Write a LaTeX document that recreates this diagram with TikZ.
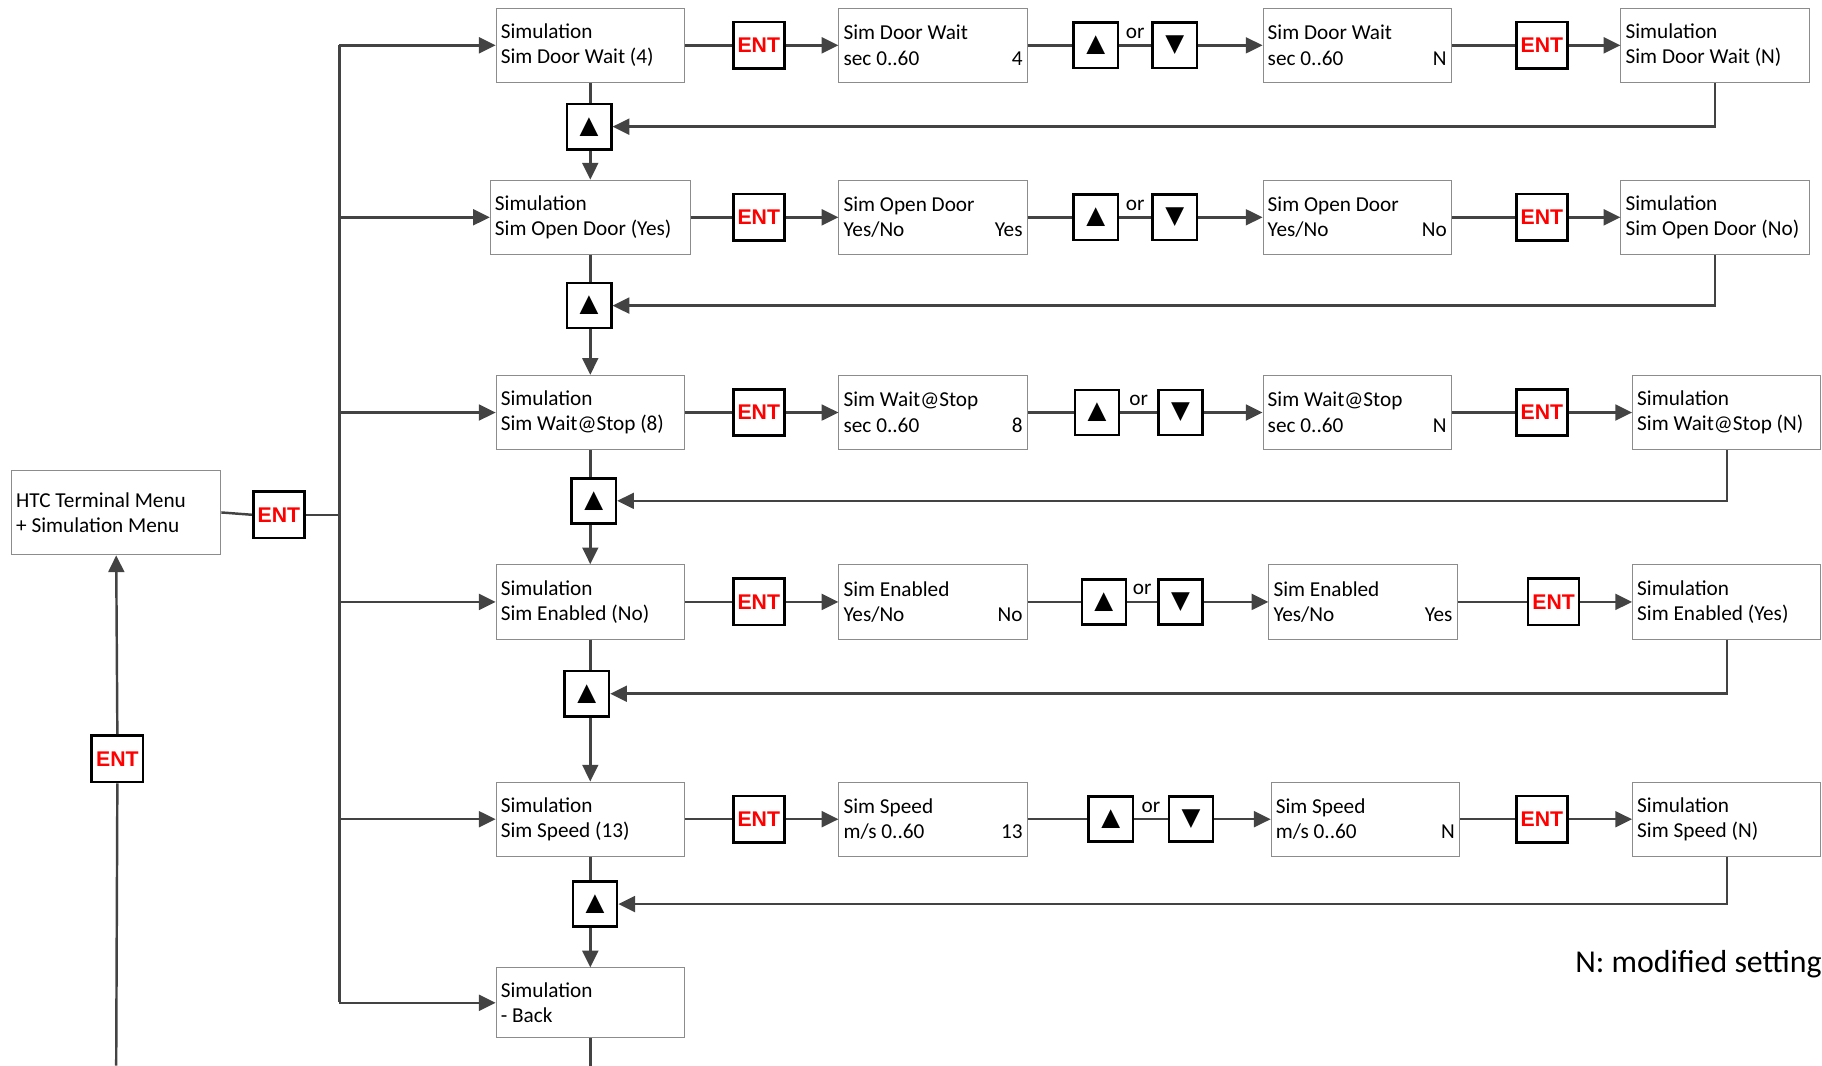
\documentclass[tikz,border=0pt]{standalone}
\usepackage{fontspec}
\setmainfont{Carlito}
\newfontfamily\entfont{Liberation Sans}
\newfontfamily\keyfont{DejaVu Sans}
\usetikzlibrary{arrows.meta, positioning, calc}
\definecolor{linegray}{RGB}{67,67,67}
\definecolor{boxgray}{RGB}{140,140,140}
\definecolor{entred}{RGB}{255,0,0}
% second line of a setting box: text left, value right
\newcommand{\valline}[2]{#1\hspace{0pt plus 1filll}#2\hspace*{0.1cm}}

\begin{document}
\begin{tikzpicture}[x=0.025cm, y=-0.025cm,
    menu/.style={draw=boxgray, line width=0.6pt, fill=white, inner xsep=0.1cm, inner ysep=0pt,
        text width=3.85cm, minimum height=1.6cm, align=flush left, font=\fontsize{13}{15.6}\selectfont},
    key/.style={draw=black, line width=1.6pt, fill=white, inner sep=0pt},
    ent/.style={key, minimum width=1.1cm, minimum height=1cm, text=entred,
        font=\entfont\bfseries\fontsize{13}{13}\selectfont},
    arr/.style={key, minimum width=0.95cm, minimum height=0.97cm, font=\keyfont\fontsize{15}{15}\selectfont},
    link/.style={draw=linegray, line width=1.5pt},
    flow/.style={link, -{Triangle[length=0.36cm, width=0.34cm]}},
    ortext/.style={anchor=south, inner sep=1pt, yshift=3pt, font=\fontsize{13}{13}\selectfont}]

    \useasboundingbox (0,0) rectangle (1568,917);

    % main menu, the ENT that leads in, and the bus
    \node[menu, text width=4.3cm, minimum height=1.825cm] (htc) at (100,441) {HTC Terminal Menu\\+ Simulation Menu};
    \node[ent] (ent0) at (240,443) {ENT};
    \node[ent] (entin) at (101,653) {ENT};
    \coordinate (bot) at (100,917);
    \coordinate (bustop) at (292,39);
    \coordinate (busbot) at (292,862);
    \draw[link] (bot) -- (entin.south);
    \draw[flow] (entin.north) -- (htc.south);
    \draw[link] (bustop) -- (busbot);
    \draw[link] (htc.east) -- (ent0.west);
    \draw[link] (ent0.east) -- (ent0.east -| bustop);

    % Sim Door Wait
    \node[menu] (s1) at (508,39) {Simulation\\Sim Door Wait (4)};
    \node[ent] (s1e) at (653,39) {ENT};
    \node[menu] (v1) at (803,39) {Sim Door Wait\\\valline{sec 0..60}{4}};
    \node[arr] (u1) at (943,39) {▲};
    \node[arr] (d1) at (1011,39) {▼};
    \node[ortext] (o1) at ($(u1.east)!.5!(d1.west)$) {or};
    \node[menu] (n1) at (1168,39) {Sim Door Wait\\\valline{sec 0..60}{N}};
    \node[ent] (n1e) at (1327,39) {ENT};
    \node[menu] (r1) at (1476,39) {Simulation\\Sim Door Wait (N)};
    \node[arr] (k1) at (507,109) {▲};

    % Sim Open Door
    \node[menu, text width=4.1cm] (s2) at (508,187) {Simulation\\Sim Open Door (Yes)};
    \node[ent] (s2e) at (653,187) {ENT};
    \node[menu] (v2) at (803,187) {Sim Open Door\\\valline{Yes/No}{Yes}};
    \node[arr] (u2) at (943,187) {▲};
    \node[arr] (d2) at (1011,187) {▼};
    \node[ortext] (o2) at ($(u2.east)!.5!(d2.west)$) {or};
    \node[menu] (n2) at (1168,187) {Sim Open Door\\\valline{Yes/No}{No}};
    \node[ent] (n2e) at (1327,187) {ENT};
    \node[menu] (r2) at (1476,187) {Simulation\\Sim Open Door (No)};
    \node[arr] (k2) at (507,263) {▲};

    % Sim Wait@Stop
    \node[menu] (s3) at (508,355) {Simulation\\Sim Wait@Stop (8)};
    \node[ent] (s3e) at (653,355) {ENT};
    \node[menu] (v3) at (803,355) {Sim Wait@Stop\\\valline{sec 0..60}{8}};
    \node[arr] (u3) at (944,355) {▲};
    \node[arr] (d3) at (1016,355) {▼};
    \node[ortext] (o3) at ($(u3.east)!.5!(d3.west)$) {or};
    \node[menu] (n3) at (1168,355) {Sim Wait@Stop\\\valline{sec 0..60}{N}};
    \node[ent] (n3e) at (1327,355) {ENT};
    \node[menu] (r3) at (1486,355) {Simulation\\Sim Wait@Stop (N)};
    \node[arr] (k3) at (511,431) {▲};

    % Sim Enabled
    \node[menu] (s4) at (508,518) {Simulation\\Sim Enabled (No)};
    \node[ent] (s4e) at (653,518) {ENT};
    \node[menu] (v4) at (803,518) {Sim Enabled\\\valline{Yes/No}{No}};
    \node[arr] (u4) at (950,518) {▲};
    \node[arr] (d4) at (1016,518) {▼};
    \node[ortext] (o4) at ($(u4.east)!.5!(d4.west)$) {or};
    \node[menu] (n4) at (1173,518) {Sim Enabled\\\valline{Yes/No}{Yes}};
    \node[ent] (n4e) at (1337,518) {ENT};
    \node[menu] (r4) at (1486,518) {Simulation\\Sim Enabled (Yes)};
    \node[arr] (k4) at (505,597) {▲};

    % Sim Speed
    \node[menu] (s5) at (508,705) {Simulation\\Sim Speed (13)};
    \node[ent] (s5e) at (653,705) {ENT};
    \node[menu] (v5) at (803,705) {Sim Speed\\\valline{m/s 0..60}{13}};
    \node[arr] (u5) at (956,705) {▲};
    \node[arr] (d5) at (1025,705) {▼};
    \node[ortext] (o5) at ($(u5.east)!.5!(d5.west)$) {or};
    \node[menu] (n5) at (1175,705) {Sim Speed\\\valline{m/s 0..60}{N}};
    \node[ent] (n5e) at (1327,705) {ENT};
    \node[menu] (r5) at (1486,705) {Simulation\\Sim Speed (N)};
    \node[arr] (k5) at (512,778) {▲};

    % Back
    \node[menu, minimum height=1.5cm] (s6) at (508,863) {Simulation\\- Back};
    \coordinate (backend) at (508,917);
    \draw[link] (s6.south) -- (backend);

    \node[anchor=east, inner sep=0pt, font=\fontsize{19.5}{23}\selectfont] (legend) at (1568,830) {N: modified setting};

    % rows: in from the bus, ENT, change, ENT, back to the list
    \draw[flow] (s1.west -| bustop) -- (s1.west);
    \draw[link] (s1.east) -- (s1e.west);
    \draw[flow] (s1e.east) -- (v1.west);
    \draw[link] (v1.east) -- (u1.west);
    \draw[link] (u1.east) -- (d1.west);
    \draw[flow] (d1.east) -- (n1.west);
    \draw[link] (n1.east) -- (n1e.west);
    \draw[flow] (n1e.east) -- (r1.west);
    \draw[flow] (r1.south) |- (k1.east);
    \draw[link] (s1.south) -- (s1.south |- k1.north);
    \draw[flow] (s1.south |- k1.south) -- (s2.north);

    \draw[flow] (s2.west -| bustop) -- (s2.west);
    \draw[link] (s2.east) -- (s2e.west);
    \draw[flow] (s2e.east) -- (v2.west);
    \draw[link] (v2.east) -- (u2.west);
    \draw[link] (u2.east) -- (d2.west);
    \draw[flow] (d2.east) -- (n2.west);
    \draw[link] (n2.east) -- (n2e.west);
    \draw[flow] (n2e.east) -- (r2.west);
    \draw[flow] (r2.south) |- (k2.east);
    \draw[link] (s2.south) -- (s2.south |- k2.north);
    \draw[flow] (s2.south |- k2.south) -- (s3.north);

    \draw[flow] (s3.west -| bustop) -- (s3.west);
    \draw[link] (s3.east) -- (s3e.west);
    \draw[flow] (s3e.east) -- (v3.west);
    \draw[link] (v3.east) -- (u3.west);
    \draw[link] (u3.east) -- (d3.west);
    \draw[flow] (d3.east) -- (n3.west);
    \draw[link] (n3.east) -- (n3e.west);
    \draw[flow] (n3e.east) -- (r3.west);
    \draw[flow] (r3.south) |- (k3.east);
    \draw[link] (s3.south) -- (s3.south |- k3.north);
    \draw[flow] (s3.south |- k3.south) -- (s4.north);

    \draw[flow] (s4.west -| bustop) -- (s4.west);
    \draw[link] (s4.east) -- (s4e.west);
    \draw[flow] (s4e.east) -- (v4.west);
    \draw[link] (v4.east) -- (u4.west);
    \draw[link] (u4.east) -- (d4.west);
    \draw[flow] (d4.east) -- (n4.west);
    \draw[link] (n4.east) -- (n4e.west);
    \draw[flow] (n4e.east) -- (r4.west);
    \draw[flow] (r4.south) |- (k4.east);
    \draw[link] (s4.south) -- (s4.south |- k4.north);
    \draw[flow] (s4.south |- k4.south) -- (s5.north);

    \draw[flow] (s5.west -| bustop) -- (s5.west);
    \draw[link] (s5.east) -- (s5e.west);
    \draw[flow] (s5e.east) -- (v5.west);
    \draw[link] (v5.east) -- (u5.west);
    \draw[link] (u5.east) -- (d5.west);
    \draw[flow] (d5.east) -- (n5.west);
    \draw[link] (n5.east) -- (n5e.west);
    \draw[flow] (n5e.east) -- (r5.west);
    \draw[flow] (r5.south) |- (k5.east);
    \draw[link] (s5.south) -- (s5.south |- k5.north);
    \draw[flow] (s5.south |- k5.south) -- (s6.north);

    \draw[flow] (s6.west -| bustop) -- (s6.west);
\end{tikzpicture}
\end{document}
